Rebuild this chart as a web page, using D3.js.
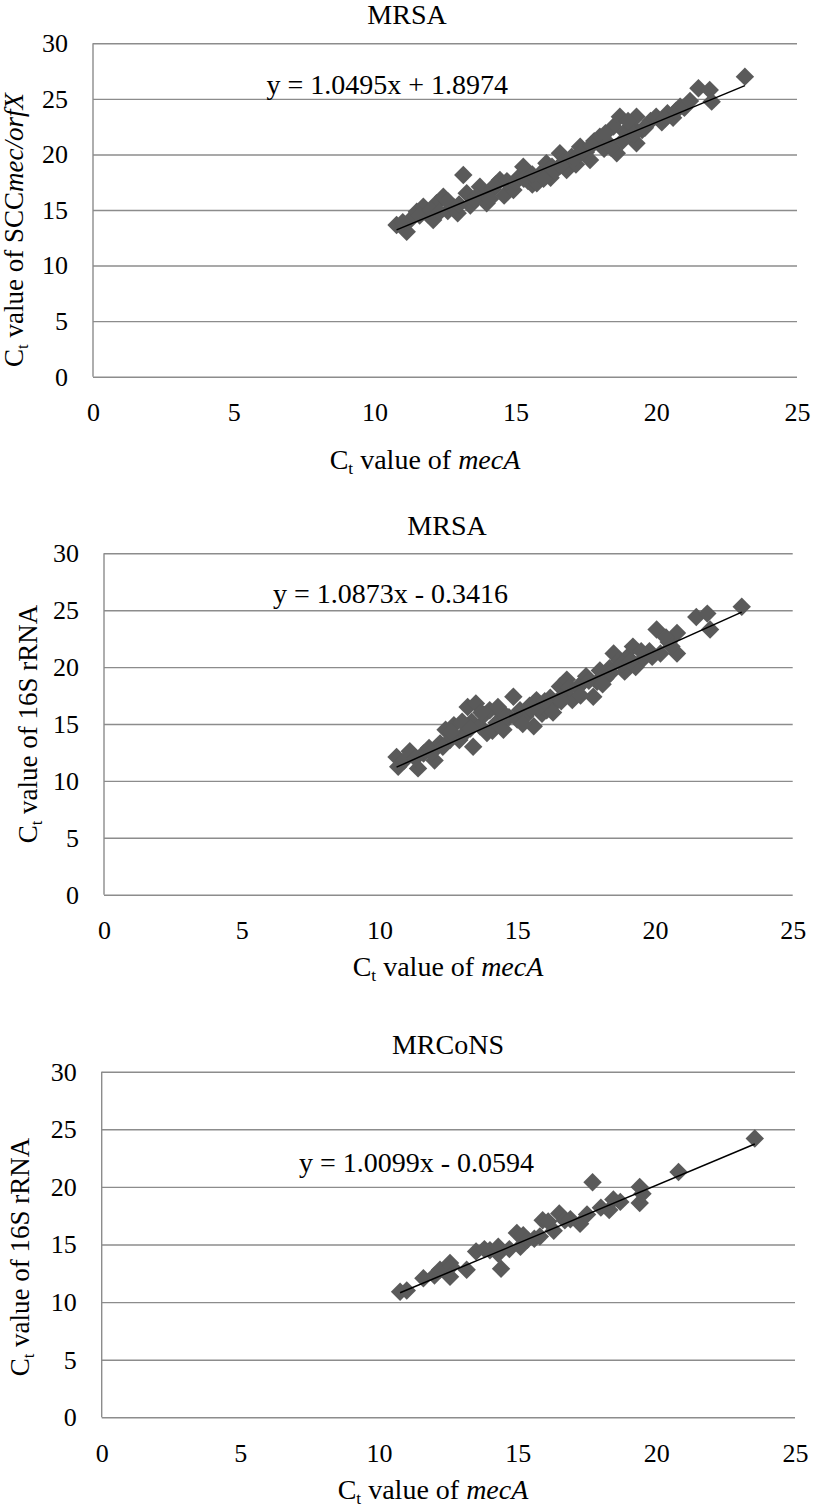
<!DOCTYPE html>
<html>
<head>
<meta charset="utf-8">
<script src="https://cdn.jsdelivr.net/npm/d3@7"></script>
<style>
  html, body { margin: 0; padding: 0; background: #fff; }
  svg { display: block; }
  text, tspan { font-family: "Liberation Serif", "Times New Roman", serif; fill: #000; }
</style>
</head>
<body>
<svg id="fig" width="813" height="1510"></svg>
<script>
// ---------------- DATA ----------------
const xTicks = [0, 5, 10, 15, 20, 25];
const yTicks = [0, 5, 10, 15, 20, 25, 30];

// Panel 1: MRSA, mecA vs SCCmec/orfX
const title1 = "MRSA";
const mecA1 = [10.78, 11.14, 11.3, 11.5, 11.73, 11.9, 12.08, 12.2, 12.44, 12.6, 12.8, 12.95, 13.15, 13.27, 13.4, 13.55,
  13.74, 13.85, 13.98, 14.2, 14.45, 14.6, 14.8, 14.93, 15.1, 15.28, 15.45, 15.6, 15.76, 15.9, 16.1, 16.25, 16.4, 16.58,
  16.7, 16.82, 17.0, 17.15, 17.3, 17.5, 17.65, 17.8, 18.0, 18.15, 18.3, 18.48, 18.6, 18.71, 18.9, 19.1, 19.3, 19.3,
  19.5, 19.8, 20.0, 20.2, 20.4, 20.6, 20.85, 21.5, 21.9, 21.97, 23.15,
  11.0, 11.6, 12.0, 12.3, 12.6, 13.0, 13.6, 14.1, 14.3, 14.7, 15.0, 15.3, 15.6, 16.0, 16.3, 16.6, 17.1, 17.4, 17.7,
  18.2, 18.4, 18.8, 19.0, 19.2, 19.6, 20.3, 20.7, 21.0, 21.2];
const scc1 = [13.65, 13.05, 14.2, 14.85, 15.3, 14.6, 14.1, 15.6, 16.2, 14.9, 15.3, 14.7, 18.15, 16.5, 15.4, 15.9,
  17.1, 16.4, 15.6, 16.9, 17.7, 16.3, 17.2, 16.8, 17.9, 18.9, 17.6, 17.3, 17.4, 18.3, 19.2, 17.9, 18.5, 20.1,
  19.3, 18.6, 19.8, 19.1, 20.7, 20.2, 19.5, 21.2, 21.6, 20.5, 21.0, 22.5, 20.1, 23.4, 22.0, 22.6, 23.4, 21.0,
  22.2, 23.0, 23.4, 22.9, 23.7, 23.3, 24.3, 25.96, 25.8, 24.75, 27.0,
  13.9, 14.5, 15.0, 14.8, 15.8, 15.5, 16.2, 16.0, 17.3, 17.6, 17.5, 17.8, 18.2, 17.8, 18.9, 19.0, 19.6, 20.3, 20.8,
  21.9, 20.6, 21.2, 23.0, 21.8, 22.4, 23.2, 23.9, 24.2, 24.8];
const slope1 = 1.0495, intercept1 = 1.8974;
const eq1 = "y = 1.0495x + 1.8974";

// Panel 2: MRSA, mecA vs 16S rRNA
const title2 = "MRSA";
const mecA2 = [10.62, 10.68, 11.1, 11.4, 11.6, 11.8, 12.0, 12.2, 12.4, 12.56, 12.7, 12.9, 13.1, 13.2, 13.35, 13.4, 13.5,
  13.65, 13.8, 14.0, 14.1, 14.25, 14.4, 14.5, 14.7, 14.86, 15.0, 15.1, 15.3, 15.45, 15.6, 15.7, 15.9, 16.07, 16.2,
  16.4, 16.55, 16.7, 16.8, 17.0, 17.2, 17.35, 17.5, 17.76, 17.9, 18.0, 18.2, 18.35, 18.5, 18.7, 18.9, 19.0, 19.2,
  19.3, 19.6, 19.8, 20.06, 20.2, 20.5, 20.8, 20.8, 21.5, 21.9, 22.0, 23.15,
  10.9, 11.3, 11.9, 12.3, 12.6, 13.0, 13.3, 13.7, 13.9, 14.3, 14.6, 15.2, 15.5, 15.8, 16.0, 16.3, 16.6, 16.9, 17.3,
  17.6, 18.1, 18.4, 18.8, 19.1, 19.5, 19.9, 20.4, 20.6];
const rrna2 = [12.1, 11.25, 12.6, 11.1, 12.4, 12.9, 11.8, 13.3, 14.5, 13.6, 14.9, 13.6, 14.2, 16.5, 15.2, 13.0, 16.8,
  14.8, 15.8, 16.2, 14.4, 15.1, 16.0, 14.5, 15.6, 17.4, 15.4, 16.2, 15.7, 16.6, 14.8, 17.1, 15.9, 16.2, 17.3,
  16.9, 18.3, 17.6, 18.9, 17.1, 18.2, 18.6, 19.2, 17.4, 18.7, 19.7, 19.0, 19.9, 21.2, 20.6, 19.6, 20.9, 21.8,
  20.0, 20.8, 21.4, 23.3, 21.2, 22.2, 23.0, 21.2, 24.4, 24.7, 23.3, 25.3,
  11.8, 12.0, 12.5, 13.0, 14.3, 15.2, 14.6, 16.0, 14.2, 16.5, 15.7, 15.0, 16.3, 16.5, 17.0, 16.0, 17.0, 18.2, 17.5,
  18.8, 18.5, 19.5, 20.3, 20.5, 21.4, 20.9, 22.6, 21.8];
const slope2 = 1.0873, intercept2 = -0.3416;
const eq2 = "y = 1.0873x - 0.3416";

// Panel 3: MRCoNS, mecA vs 16S rRNA
const title3 = "MRCoNS";
const mecA3 = [10.76, 11.0, 11.6, 12.0, 12.2, 12.56, 12.6, 12.56, 13.16, 13.5, 13.8, 14.0, 14.3, 14.3, 14.4, 14.7,
  14.97, 15.1, 15.2, 15.35, 15.6, 15.8, 15.9, 16.1, 16.3, 16.5, 16.7, 16.9, 17.25, 17.5, 17.7, 18.0, 18.3, 18.45,
  18.7, 19.4, 19.4, 19.5, 20.8, 23.55];
const rrna3 = [10.9, 11.0, 12.07, 12.3, 12.8, 13.4, 13.1, 12.2, 12.8, 14.4, 14.6, 14.5, 14.2, 14.8, 12.9, 14.6,
  16.0, 14.8, 15.8, 15.4, 15.5, 15.7, 17.1, 17.0, 16.2, 17.7, 17.1, 17.2, 16.8, 17.6, 20.4, 18.2, 18.0, 18.9,
  18.7, 18.6, 20.0, 19.4, 21.3, 24.2];
const slope3 = 1.0099, intercept3 = -0.0594;
const eq3 = "y = 1.0099x - 0.0594";

// ---------------- LAYOUT ----------------
const FONT = "'Liberation Serif', 'Times New Roman', serif";
const panels = [
  { title: title1, xs: mecA1, ys: scc1, m: slope1, b: intercept1, eq: eq1,
    left: 93, right: 797, top: 43.3, bottom: 376.7,
    titlePos: [407, 24], eqPos: [508, 94], xLabelPos: [425, 469], yLabelPos: [23, 230],
    yLabel: [["C", ""], ["t", "sub"], [" value of SCC", ""], ["mec/orfX", "i"]] },
  { title: title2, xs: mecA2, ys: rrna2, m: slope2, b: intercept2, eq: eq2,
    left: 104, right: 792.7, top: 553.3, bottom: 894.7,
    titlePos: [447, 535], eqPos: [508, 603], xLabelPos: [448, 976], yLabelPos: [37, 724],
    yLabel: [["C", ""], ["t", "sub"], [" value of 16S rRNA", ""]] },
  { title: title3, xs: mecA3, ys: rrna3, m: slope3, b: intercept3, eq: eq3,
    left: 101.7, right: 795, top: 1071.7, bottom: 1417.3,
    titlePos: [448, 1054], eqPos: [534, 1171.7], xLabelPos: [433, 1499], yLabelPos: [29, 1257],
    yLabel: [["C", ""], ["t", "sub"], [" value of 16S rRNA", ""]] }
];

const svg = d3.select("#fig");
const gridColor = "#8c8c8c";
const markerColor = "#5a5a5a";
const diamond = d3.symbol().type(d3.symbolSquare).size(170)();

function addRich(textSel, parts, baseSize) {
  let shifted = false;
  parts.forEach(([s, kind]) => {
    const t = textSel.append("tspan").text(s).style("font-family", FONT);
    if (kind === "sub") {
      t.attr("font-size", baseSize * 0.62).attr("dy", 5);
      shifted = true;
    } else {
      if (shifted) { t.attr("dy", -5); shifted = false; }
      if (kind === "i") t.attr("font-style", "italic");
    }
  });
}

panels.forEach(p => {
  const x = d3.scaleLinear().domain([0, 25]).range([p.left, p.right]);
  const y = d3.scaleLinear().domain([0, 30]).range([p.bottom, p.top]);
  const g = svg.append("g");

  // Y axis with gridlines
  const yAxis = g.append("g")
    .attr("transform", `translate(${p.left},0)`)
    .call(d3.axisLeft(y).tickValues(yTicks).tickSize(-(p.right - p.left)).tickPadding(25).tickFormat(d3.format("d")));
  yAxis.attr("font-family", null).attr("font-size", null);
  yAxis.select(".domain").remove();
  yAxis.selectAll(".tick line").attr("stroke", gridColor).attr("stroke-width", 1.4);
  yAxis.selectAll(".tick text").style("font-family", FONT).style("font-size", "26px").attr("fill", "#000");
  // left axis line
  g.append("line").attr("x1", p.left).attr("x2", p.left).attr("y1", y(30)).attr("y2", y(0))
    .attr("stroke", gridColor).attr("stroke-width", 1.4);

  // X axis labels
  const xAxis = g.append("g")
    .attr("transform", `translate(0,${p.bottom})`)
    .call(d3.axisBottom(x).tickValues(xTicks).tickSize(0).tickPadding(26).tickFormat(d3.format("d")));
  xAxis.attr("font-family", null).attr("font-size", null);
  xAxis.select(".domain").remove();
  xAxis.selectAll(".tick text").style("font-family", FONT).style("font-size", "26px").attr("fill", "#000");

  // Points
  g.append("g").selectAll("path").data(p.xs.map((v, i) => [v, p.ys[i]])).join("path")
    .attr("d", diamond)
    .attr("transform", d => `translate(${x(d[0])},${y(d[1])}) rotate(45)`)
    .attr("fill", markerColor);

  // Trend line
  const x0 = d3.min(p.xs), x1 = d3.max(p.xs);
  g.append("line")
    .attr("x1", x(x0)).attr("y1", y(p.m * x0 + p.b))
    .attr("x2", x(x1)).attr("y2", y(p.m * x1 + p.b))
    .attr("stroke", "#000").attr("stroke-width", 1.5);

  // Equation
  g.append("text").attr("x", p.eqPos[0]).attr("y", p.eqPos[1])
    .attr("text-anchor", "end").style("font-family", FONT).style("font-size", "28px").text(p.eq);

  // Title
  g.append("text").attr("x", p.titlePos[0]).attr("y", p.titlePos[1])
    .attr("text-anchor", "middle").style("font-family", FONT).style("font-size", "28px").text(p.title);

  // X label
  const xl = g.append("text").attr("x", p.xLabelPos[0]).attr("y", p.xLabelPos[1])
    .attr("text-anchor", "middle").style("font-family", FONT).attr("font-size", 28);
  addRich(xl, [["C", ""], ["t", "sub"], [" value of ", ""], ["mecA", "i"]], 28);

  // Y label
  const yl = g.append("text")
    .attr("transform", `translate(${p.yLabelPos[0]},${p.yLabelPos[1]}) rotate(-90)`)
    .attr("text-anchor", "middle").style("font-family", FONT).attr("font-size", 27);
  addRich(yl, p.yLabel, 27);
});
</script>
</body>
</html>
